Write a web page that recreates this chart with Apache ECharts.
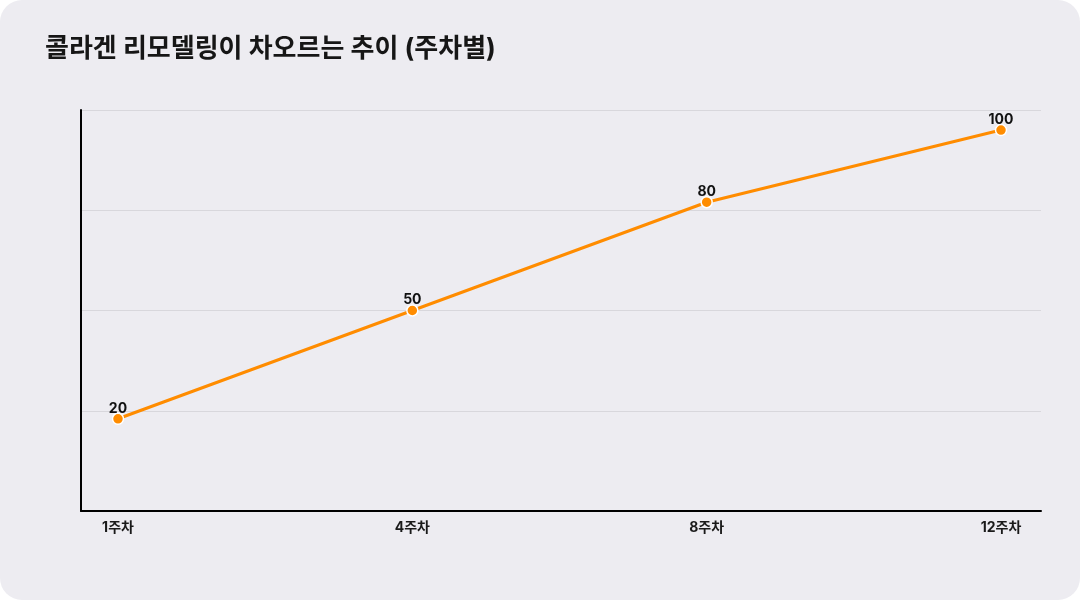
<!DOCTYPE html>
<html>
<head>
<meta charset="utf-8">
<script src="https://cdn.jsdelivr.net/npm/echarts@6/dist/echarts.min.js"></script>
<style>
    html, body { margin: 0; padding: 0; background: #ffffff; }
    #chart { width: 1080px; height: 600px; border-radius: 22px; overflow: hidden; background: #edecf1; }
</style>
</head>
<body>
<div id="chart"></div>
<script>
// 데이터
var titleText = '콜라겐 리모델링이 차오르는 추이 (주차별)';
var weeks = ['1주차', '4주차', '8주차', '12주차'];
var remodeling = [20, 50, 80, 100];

var chart = echarts.init(document.getElementById('chart'));
var fontFamily = 'Inter, "Noto Sans CJK KR", sans-serif';

var option = {
    animation: false,
    title: {
        text: titleText,
        left: 40,
        top: 31,
        textStyle: {
            fontFamily: fontFamily,
            fontSize: 26,
            fontWeight: 'bold',
            color: '#161616'
        }
    },
    grid: [
        // 축선, 격자선
        { left: 81, right: 39, top: 110, bottom: 89 },
        // 데이터
        { left: 118, right: 79, top: 110, bottom: 89 }
    ],
    xAxis: [{
        gridIndex: 0,
        type: 'value',
        min: 0,
        max: 1,
        axisLine: { show: true, onZero: false, lineStyle: { color: '#000000', width: 2 } },
        axisTick: { show: false },
        axisLabel: { show: false },
        splitLine: { show: false }
    }, {
        gridIndex: 1,
        type: 'category',
        data: weeks,
        boundaryGap: false,
        axisLine: { show: false },
        axisTick: { show: false },
        axisLabel: {
            margin: 10,
            fontFamily: fontFamily,
            fontSize: 14,
            fontWeight: 'bold',
            color: '#1a1a1a'
        }
    }],
    yAxis: [{
        gridIndex: 0,
        type: 'value',
        min: 0,
        max: 4,
        interval: 1,
        axisLine: { show: true, onZero: false, lineStyle: { color: '#000000', width: 2 } },
        axisTick: { show: false },
        axisLabel: { show: false },
        splitLine: { show: true, lineStyle: { color: '#d8d7dc', width: 1 } }
    }, {
        gridIndex: 1,
        type: 'value',
        min: -5.556,
        max: 105.556,
        show: false
    }],
    series: [{
        type: 'line',
        xAxisIndex: 1,
        yAxisIndex: 1,
        data: remodeling,
        lineStyle: { color: '#ff8c00', width: 3 },
        itemStyle: { color: '#ff8c00', borderColor: '#ffffff', borderWidth: 1.5 },
        symbol: 'circle',
        symbolSize: 11,
        label: {
            show: true,
            position: 'top',
            distance: -3,
            fontFamily: fontFamily,
            fontSize: 14,
            fontWeight: 'bold',
            color: '#111111'
        }
    }]
};

chart.setOption(option);
</script>
</body>
</html>
